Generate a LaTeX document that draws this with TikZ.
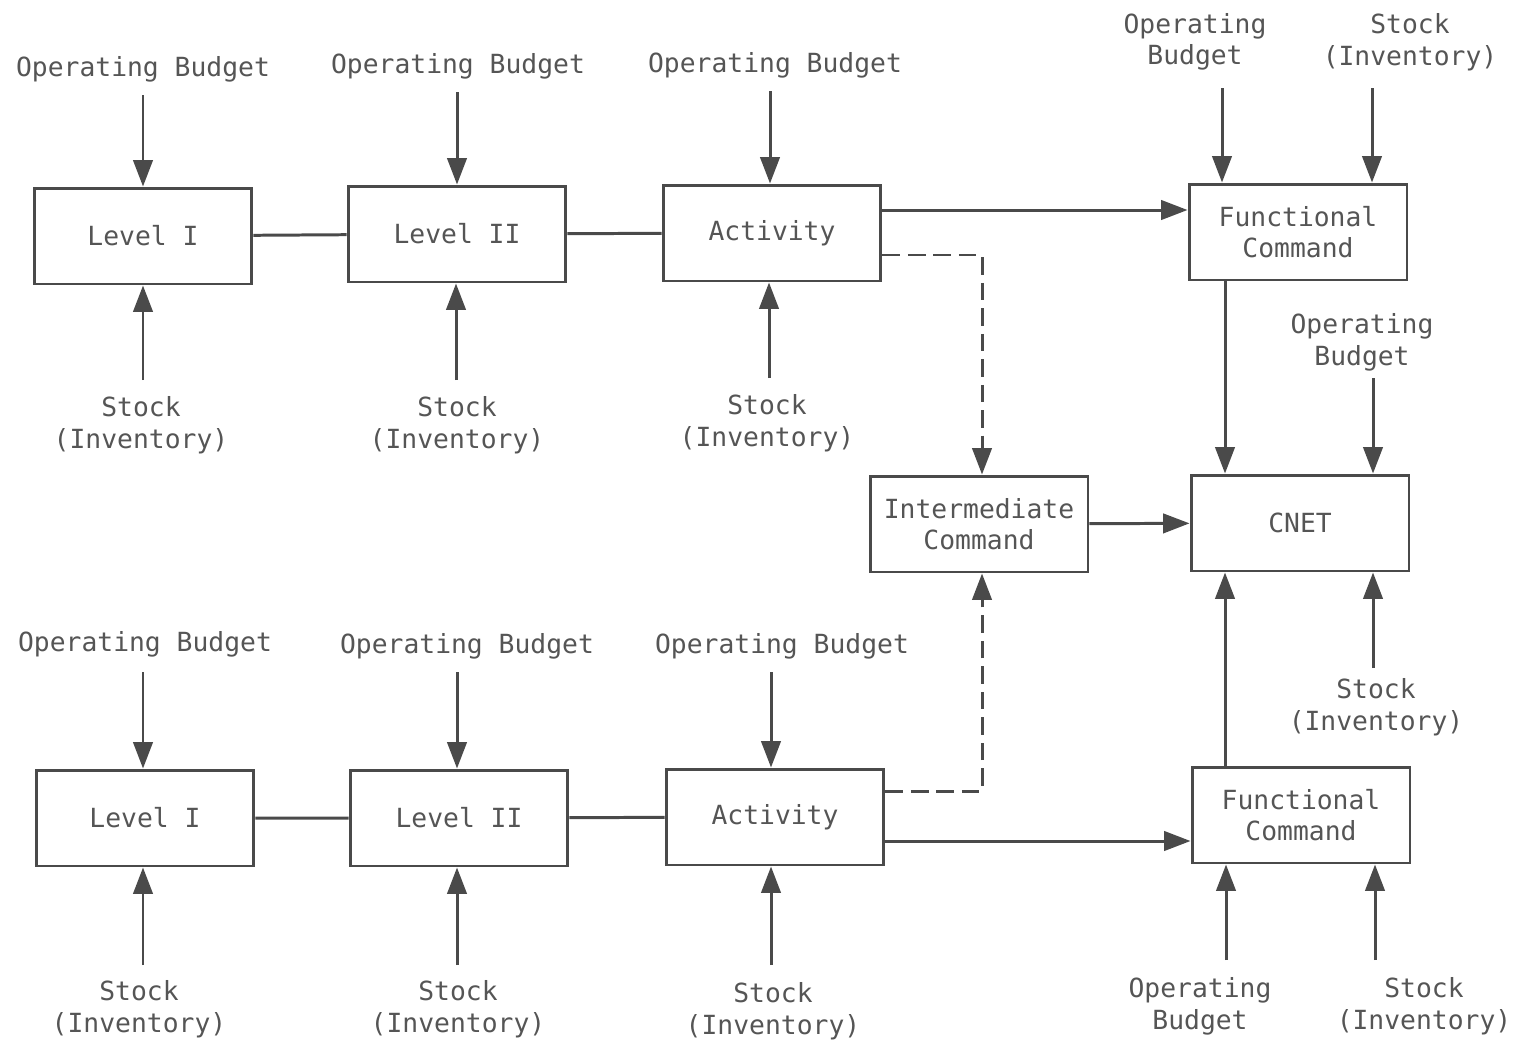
\documentclass[tikz,border=0pt]{standalone}
\usepackage{fontspec}
\setmonofont{DejaVu Sans Mono}
\usetikzlibrary{arrows.meta}
\definecolor{ink}{HTML}{4A4A4A}
\definecolor{txt}{HTML}{555555}
\begin{document}
\begin{tikzpicture}
        [x=0.02cm,y=-0.02cm,
        every node/.style={font=\ttfamily\fontsize{15}{18}\selectfont,text=txt,align=center},
        box/.style={draw=ink,line width=1.7pt,minimum width=4.36cm,minimum height=1.92cm,inner sep=0pt},
        lbl/.style={inner sep=0pt},
        link/.style={draw=ink,line width=1.7pt},
        arr/.style={link,-{Triangle[length=15pt,width=11pt]}},
        dasharr/.style={arr,dash pattern=on 10pt off 4.5pt}]
        \useasboundingbox (0,0) rectangle (1517,1045);
        % upper chain
        \node[box] (l1a) at (143,236) {Level I};
        \node[box] (l2a) at (457,234) {Level II};
        \node[box] (acta) at (772,233) {Activity};
        \node[box] (fca) at (1298,232) {Functional\\Command};
        \node[box] (ic) at (979,524) {Intermediate\\Command};
        \node[box] (cnet) at (1300,523) {CNET};
        % lower chain
        \node[box] (l1b) at (145,818) {Level I};
        \node[box] (l2b) at (459,818) {Level II};
        \node[box] (actb) at (775,817) {Activity};
        \node[box] (fcb) at (1301,815) {Functional\\Command};
        % labels
        \node[lbl] (oba1) at (143,69) {Operating Budget};
        \node[lbl] (oba2) at (458,66) {Operating Budget};
        \node[lbl] (oba3) at (775,65) {Operating Budget};
        \node[lbl] (sta1) at (141,425) {Stock\\(Inventory)};
        \node[lbl] (sta2) at (457,425) {Stock\\(Inventory)};
        \node[lbl] (sta3) at (767,423) {Stock\\(Inventory)};
        \node[lbl] (obf1) at (1195,42) {Operating\\Budget};
        \node[lbl] (stf1) at (1410,42) {Stock\\(Inventory)};
        \node[lbl] (obc) at (1362,342) {Operating\\Budget};
        \node[lbl] (stc) at (1376,707) {Stock\\(Inventory)};
        \node[lbl] (obb1) at (145,644) {Operating Budget};
        \node[lbl] (obb2) at (467,646) {Operating Budget};
        \node[lbl] (obb3) at (782,646) {Operating Budget};
        \node[lbl] (stb1) at (139,1009) {Stock\\(Inventory)};
        \node[lbl] (stb2) at (458,1009) {Stock\\(Inventory)};
        \node[lbl] (stb3) at (773,1011) {Stock\\(Inventory)};
        \node[lbl] (obf2) at (1200,1006) {Operating\\Budget};
        \node[lbl] (stf2) at (1424,1006) {Stock\\(Inventory)};
        % free ends of the inputs
        \coordinate (ta1) at (143,95);
        \coordinate (ta2) at (457,92);
        \coordinate (ta3) at (770,91);
        \coordinate (ua1) at (143,380);
        \coordinate (ua2) at (456,380);
        \coordinate (ua3) at (769,378);
        \coordinate (tf1) at (1222,88);
        \coordinate (tf2) at (1372,88);
        \coordinate (tc) at (1373,378);
        \coordinate (uc) at (1373,668);
        \coordinate (tb1) at (143,672);
        \coordinate (tb2) at (457,672);
        \coordinate (tb3) at (771,672);
        \coordinate (ub1) at (143,965);
        \coordinate (ub2) at (457,965);
        \coordinate (ub3) at (771,965);
        \coordinate (uf1) at (1226,960);
        \coordinate (uf2) at (1375,960);
        \coordinate (mid) at (1225,0);
        \coordinate (dsh) at (982,0);
        % inputs
        \foreach \a/\b in {ta1/l1a,ta2/l2a,ta3/acta,tf1/fca,tf2/fca,tc/cnet,
                tb1/l1b,tb2/l2b,tb3/actb}
                \draw[arr] (\a) -- (\a |- \b.north);
        \foreach \a/\b in {ua1/l1a,ua2/l2a,ua3/acta,uc/cnet,
                ub1/l1b,ub2/l2b,ub3/actb,uf1/fcb,uf2/fcb}
                \draw[arr] (\a) -- (\a |- \b.south);
        % chains
        \draw[link] (l1a) -- (l2a) -- (acta);
        \draw[link] (l1b) -- (l2b) -- (actb);
        \draw[arr] ([yshift=0.46cm]acta.east) -- ([yshift=0.46cm]acta.east -| fca.west);
        \draw[arr] ([yshift=-0.48cm]actb.east) -- ([yshift=-0.48cm]actb.east -| fcb.west);
        \draw[arr] (ic) -- (cnet);
        \draw[arr] (mid |- fca.south) -- (mid |- cnet.north);
        \draw[arr] (mid |- fcb.north) -- (mid |- cnet.south);
        \draw[dasharr] ([yshift=-0.44cm]acta.east) -| (dsh |- ic.north);
        \draw[dasharr] ([yshift=0.52cm]actb.east) -| (dsh |- ic.south);
\end{tikzpicture}
\end{document}
